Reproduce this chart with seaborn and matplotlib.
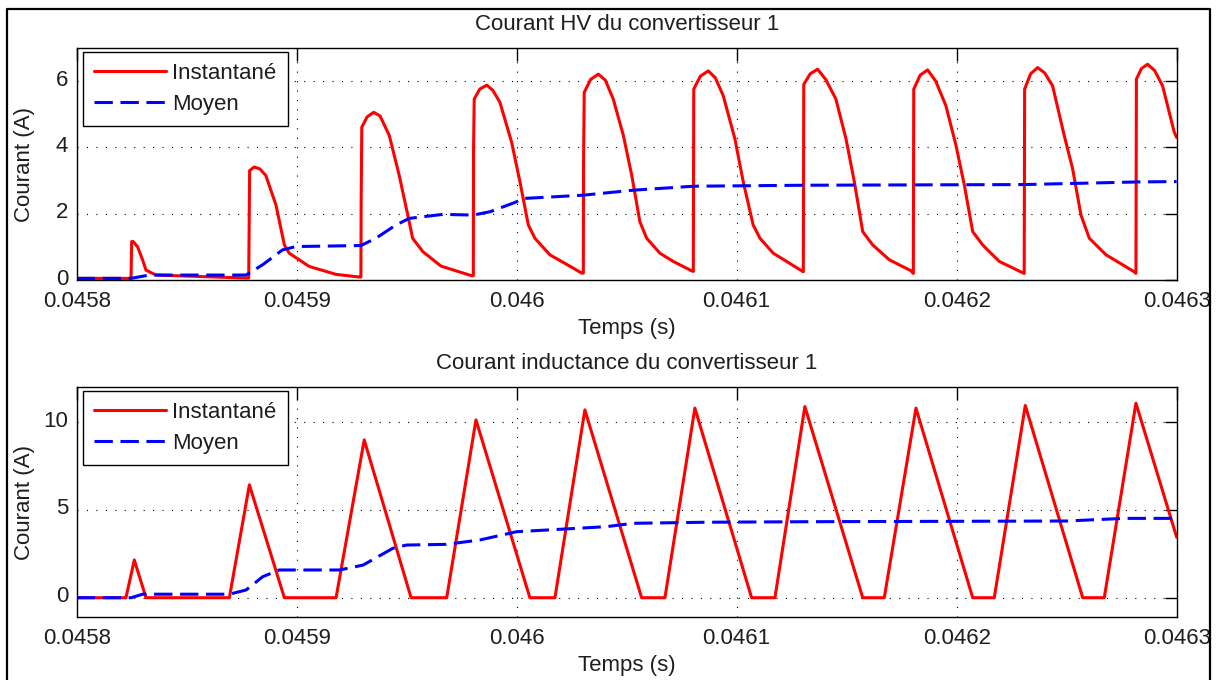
import numpy as np
import matplotlib
matplotlib.use("Agg")
import matplotlib.pyplot as plt
import matplotlib.transforms as mtransforms
import seaborn as sns
from matplotlib.lines import Line2D

# ---- Courant HV du convertisseur 1 (time in microseconds, current in A) ----
t_hv_us = [45800.0, 45824.7, 45825.0, 45825.7, 45827.7, 45830.0, 45831.5, 45836.0, 45877.0,
           45878.2, 45878.4, 45878.6, 45880.7, 45883.3, 45886.0, 45890.6, 45894.4, 45896.6, 45905.7, 45917.9, 45928.5,
           45929.2, 45929.3, 45929.6, 45932.0, 45935.0, 45937.9, 45942.1, 45946.6, 45950.5, 45952.7, 45957.3, 45965.6, 45979.5,
           45980.3, 45980.4, 45980.7, 45983.2, 45986.4, 45989.2, 45992.4, 45997.7, 46001.5, 46005.3, 46008.3, 46015.1, 46025.7, 46029.5,
           46030.3, 46030.4, 46030.7, 46033.6, 46037.1, 46040.3, 46043.9, 46048.5, 46052.3, 46056.0, 46059.1, 46065.1, 46071.2, 46079.5,
           46080.3, 46080.5, 46083.5, 46087.1, 46090.3, 46093.9, 46099.2, 46103.0, 46107.5, 46110.6, 46116.6, 46128.8,
           46130.3, 46130.5, 46133.4, 46136.8, 46140.5, 46145.1, 46149.7, 46153.5, 46157.3, 46161.8, 46169.4, 46179.2,
           46180.3, 46180.5, 46183.4, 46186.8, 46190.5, 46195.1, 46199.7, 46203.5, 46207.3, 46211.8, 46219.4, 46230.0,
           46230.7, 46230.9, 46233.6, 46236.8, 46240.0, 46243.6, 46248.9, 46252.7, 46256.5, 46260.3, 46267.9, 46280.7,
           46281.5, 46281.7, 46284.0, 46286.8, 46290.0, 46293.6, 46298.9, 46300.0]
i_hv = [0.05, 0.05, 1.16, 1.16, 1.00, 0.60, 0.30, 0.15, 0.06,
        0.06, 1.66, 3.30, 3.41, 3.35, 3.15, 2.26, 1.06, 0.81, 0.41, 0.17, 0.09,
        0.09, 2.31, 4.61, 4.92, 5.06, 4.95, 4.36, 3.16, 1.96, 1.26, 0.86, 0.42, 0.13,
        0.13, 3.96, 5.46, 5.76, 5.88, 5.72, 5.36, 4.16, 2.96, 1.66, 1.26, 0.76, 0.36, 0.21,
        0.21, 3.50, 5.66, 6.05, 6.21, 6.03, 5.46, 4.36, 3.16, 1.76, 1.26, 0.81, 0.56, 0.28,
        0.26, 5.76, 6.15, 6.31, 6.10, 5.56, 4.26, 2.96, 1.66, 1.26, 0.81, 0.31,
        0.25, 5.90, 6.22, 6.36, 6.05, 5.46, 4.26, 2.96, 1.46, 1.06, 0.61, 0.28,
        0.20, 5.76, 6.18, 6.34, 6.00, 5.26, 4.06, 2.86, 1.46, 1.06, 0.56, 0.22,
        0.20, 5.76, 6.22, 6.41, 6.25, 5.86, 4.36, 3.36, 1.96, 1.26, 0.76, 0.25,
        0.20, 6.06, 6.38, 6.51, 6.32, 5.86, 4.46, 4.30]

t_hv_mean_us = [45800.0, 45824.7, 45833.0, 45877.0, 45884.5, 45893.6, 45899.7, 45929.2, 45936.0,
                45945.1, 45951.2, 45966.4, 45980.3, 45987.9, 45999.2, 46003.0, 46030.3, 46053.0,
                46080.3, 46131.8, 46230.7, 46283.0, 46300.0]
i_hv_mean = [0.05, 0.05, 0.15, 0.15, 0.46, 0.91, 1.01, 1.04, 1.26,
             1.66, 1.86, 1.98, 1.96, 2.06, 2.34, 2.46, 2.56, 2.71,
             2.83, 2.86, 2.88, 2.96, 2.97]

# ---- Courant inductance du convertisseur 1 ----
t_l_us = [45800.0, 45822.4, 45826.2, 45831.5, 45869.4, 45878.5, 45894.4, 45917.9, 45930.7,
          45952.0, 45968.2, 45981.5, 46006.0, 46017.4, 46031.0, 46056.8, 46067.4, 46081.0,
          46106.8, 46117.4, 46131.0, 46157.3, 46167.1, 46181.5, 46207.3, 46217.1, 46231.2,
          46257.3, 46267.1, 46281.5, 46300.0]
i_l = [0.0, 0.0, 2.15, 0.0, 0.0, 6.43, 0.0, 0.0, 8.99,
       0.0, 0.0, 10.13, 0.0, 0.0, 10.70, 0.0, 0.0, 10.80,
       0.0, 0.0, 10.89, 0.0, 0.0, 10.80, 0.0, 0.0, 10.95,
       0.0, 0.0, 11.08, 3.45]

t_l_mean_us = [45800.0, 45824.7, 45830.0, 45869.4, 45877.0, 45884.6, 45892.1, 45919.5, 45930.2,
               45943.8, 45949.9, 45968.0, 45983.3, 46000.0, 46022.7, 46040.9, 46053.0, 46086.4,
               46133.3, 46250.0, 46276.0, 46300.0]
i_l_mean = [0.0, 0.0, 0.2, 0.2, 0.44, 1.2, 1.58, 1.58, 1.86,
            2.82, 3.0, 3.04, 3.29, 3.76, 3.92, 4.05, 4.24, 4.30,
            4.33, 4.37, 4.52, 4.52]

x_ticks = [0.0458, 0.0459, 0.0460, 0.0461, 0.0462, 0.0463]
x_tick_labels = ["0.0458", "0.0459", "0.046", "0.0461", "0.0462", "0.0463"]
hv_yticks = [0, 2, 4, 6]
l_yticks = [0, 5, 10]

sns.set_theme(style="white")
plt.rcParams["font.family"] = ["Liberation Sans", "DejaVu Sans"]
TXT = "#1e1e1e"
plt.rcParams["text.color"] = TXT
plt.rcParams["axes.labelcolor"] = TXT
plt.rcParams["xtick.color"] = TXT
plt.rcParams["ytick.color"] = TXT

FS = 16

fig = plt.figure(figsize=(12.23, 6.8), dpi=100)
fig.patch.set_facecolor("white")
ax1 = fig.add_axes([0.0627, 0.5882, 0.8994, 0.3412])
ax2 = fig.add_axes([0.0627, 0.0926, 0.8994, 0.3382])

# small upward nudge of the y tick labels
y_lift = mtransforms.ScaledTranslation(0, 2.5 / 72, fig.dpi_scale_trans)


def draw_panel(ax, t_inst, v_inst, t_avg, v_avg, ylim, yticks, title):
    sns.lineplot(x=np.array(t_inst) * 1e-6, y=v_inst, ax=ax, color="#ff0000",
                 linewidth=2.2, label="Instantané", sort=False, estimator=None)
    sns.lineplot(x=np.array(t_avg) * 1e-6, y=v_avg, ax=ax, color="#0000ff",
                 linewidth=2.2, linestyle=(0, (6, 2.5)), label="Moyen",
                 sort=False, estimator=None)
    ax.set_xlim(0.0458, 0.0463)
    ax.set_ylim(*ylim)
    ax.set_xticks(x_ticks)
    ax.set_xticklabels(x_tick_labels)
    ax.set_yticks(yticks)
    ax.set_yticklabels([str(v) for v in yticks])
    ax.tick_params(direction="in", length=9, width=1.0, top=True, right=True,
                   labelsize=FS, colors="black", labelcolor=TXT)
    ax.tick_params(axis="x", pad=8)
    ax.tick_params(axis="y", pad=6)
    for lab in ax.get_yticklabels():
        lab.set_transform(lab.get_transform() + y_lift)
    ax.grid(True, color="black", linestyle=(0, (1, 7.5)), linewidth=0.8)
    for sp in ax.spines.values():
        sp.set_color("black")
        sp.set_linewidth(1.0)
    ax.set_title(title, fontsize=FS, pad=13, color=TXT)
    ax.set_xlabel("Temps (s)", fontsize=FS, labelpad=4)
    ax.set_ylabel("Courant (A)", fontsize=FS)
    ax.yaxis.set_label_coords(-0.038, 0.5)
    leg = ax.legend(loc="upper left", bbox_to_anchor=(0.006, 0.984), borderaxespad=0,
                    frameon=True, fancybox=False, edgecolor="black", framealpha=1,
                    fontsize=FS, handlelength=3.2, handletextpad=0.3, borderpad=0.5,
                    labelspacing=0.45)
    leg.get_frame().set_linewidth(1.0)


draw_panel(ax1, t_hv_us, i_hv, t_hv_mean_us, i_hv_mean, (0, 7), hv_yticks,
           "Courant HV du convertisseur 1")
draw_panel(ax2, t_l_us, i_l, t_l_mean_us, i_l_mean, (-1.1, 12), l_yticks,
           "Courant inductance du convertisseur 1")

# outer frame around the figure
fx0, fx1, fy1 = 7 / 1223, 1210 / 1223, 1 - 9 / 680
fig.add_artist(Line2D([fx0, fx0, fx1, fx1], [0, fy1, fy1, 0], transform=fig.transFigure,
                      color="black", linewidth=1.6))

fig.savefig("out.png", dpi=100, facecolor="white")
